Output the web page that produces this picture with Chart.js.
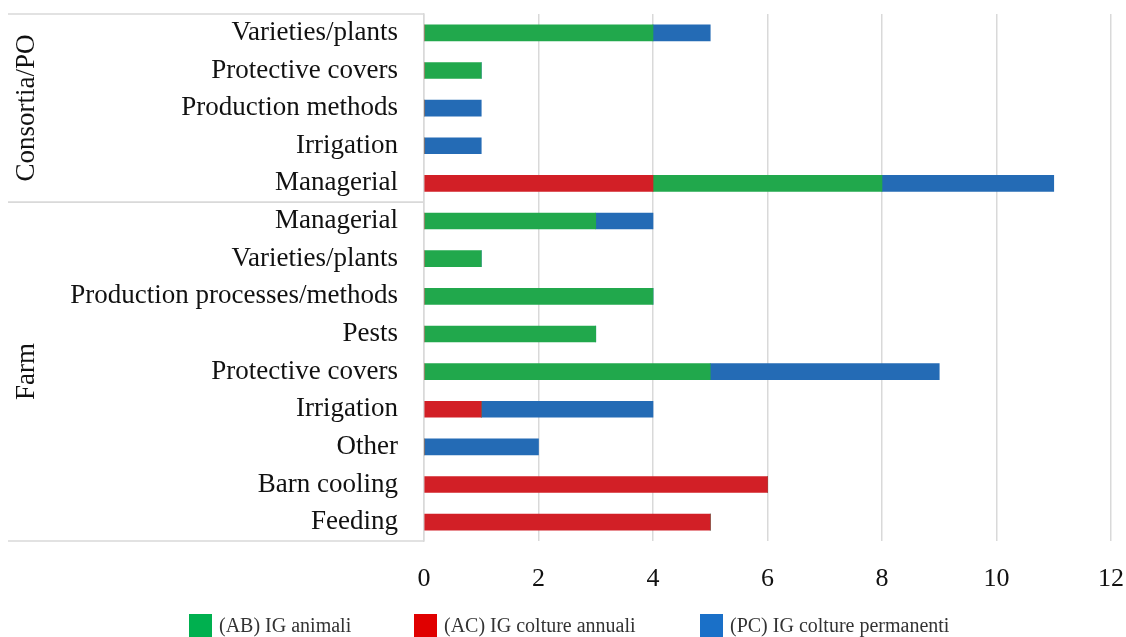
<!DOCTYPE html>
<html>
<head>
<meta charset="utf-8">
<script src="https://cdn.jsdelivr.net/npm/chart.js@4/dist/chart.umd.min.js"></script>
<style>
  body { margin: 0; background: #fff; }
  #wrap { position: relative; width: 1126px; height: 637px; }
  #legend { position: absolute; left: 0; top: 614px; width: 1126px; font-family: "Liberation Serif", serif; font-size: 20px; color: #333; }
  .item { position: absolute; top: 0; height: 23px; line-height: 23px; white-space: nowrap; }
  .box { display: inline-block; width: 23px; height: 23px; vertical-align: top; margin-right: 7px; }
</style>
</head>
<body>
<div id="wrap">
  <canvas id="chart"></canvas>
  <div id="legend"></div>
</div>
<script>
var categories = ["Varieties/plants", "Protective covers", "Production methods", "Irrigation", "Managerial",
  "Managerial", "Varieties/plants", "Production processes/methods", "Pests", "Protective covers",
  "Irrigation", "Other", "Barn cooling", "Feeding"];

// group label, first index, last index
var groupNames = ["Consortia/PO", "Farm"];
var groupFirst = [0, 5];
var groupLast = [4, 13];

var seriesNames = ["(AC) IG colture annuali", "(AB) IG animali", "(PC) IG colture permanenti"];
var acValues = [0, 0, 0, 0, 4, 0, 0, 0, 0, 0, 1, 0, 6, 5];
var abValues = [4, 1, 0, 0, 4, 3, 1, 4, 3, 5, 0, 0, 0, 0];
var pcValues = [1, 0, 1, 1, 3, 1, 0, 0, 0, 4, 3, 2, 0, 0];
var xTicks = [0, 2, 4, 6, 8, 10, 12];

var barColors = ["#d21f26", "#21a84c", "#246bb5"];
var legendColors = ["#e00000", "#00b04f", "#1a70c8"];
var legendOrder = [1, 0, 2];
var legendX = [189, 414, 700];

var FONT = "Liberation Serif";
var GRID = "#d9d9d9";

// group labels + separator lines on the left
var groupPlugin = {
  id: "groups",
  afterDraw: function (chart) {
    var c = chart.ctx;
    var y = chart.scales.y;
    var band = (y.getPixelForValue(1) - y.getPixelForValue(0));
    var right = chart.chartArea.left;
    c.save();
    c.strokeStyle = GRID;
    c.lineWidth = 1.5;
    c.fillStyle = "#111";
    c.font = "27px '" + FONT + "'";
    c.textAlign = "center";
    c.textBaseline = "middle";
    for (var i = 0; i < groupNames.length; i++) {
      var top = y.getPixelForValue(groupFirst[i]) - band / 2;
      var bot = y.getPixelForValue(groupLast[i]) + band / 2;
      c.beginPath();
      c.moveTo(8, top);
      c.lineTo(right, top);
      c.moveTo(8, bot);
      c.lineTo(right, bot);
      c.stroke();
      c.save();
      c.translate(27, (top + bot) / 2);
      c.rotate(-Math.PI / 2);
      c.fillText(groupNames[i], 0, 0);
      c.restore();
    }
    c.restore();
  }
};

var ctx = document.getElementById("chart").getContext("2d");
ctx.canvas.width = 1126;
ctx.canvas.height = 637;

var chart = new Chart(ctx, {
  type: "bar",
  data: {
    labels: categories,
    datasets: [
      { label: seriesNames[0], data: acValues, backgroundColor: barColors[0] },
      { label: seriesNames[1], data: abValues, backgroundColor: barColors[1] },
      { label: seriesNames[2], data: pcValues, backgroundColor: barColors[2] },
    ],
  },
  options: {
    indexAxis: "y",
    responsive: false,
    animation: false,
    layout: { padding: { top: 14, right: 15, left: 0, bottom: 0 } },
    datasets: { bar: { barThickness: 16 } },
    plugins: { legend: { display: false }, tooltip: { enabled: false } },
    scales: {
      x: {
        stacked: true,
        min: 0,
        max: 12,
        afterBuildTicks: function (s) {
          s.ticks = xTicks.map(function (v) { return { value: v }; });
        },
        afterFit: function (s) {
          s.height = 96;
          s.paddingLeft = 0;
          s.paddingRight = 0;
        },
        grid: { color: GRID, lineWidth: 1.5, drawTicks: false },
        border: { display: false },
        ticks: { color: "#111", padding: 23, font: { family: FONT, size: 26 } },
      },
      y: {
        stacked: true,
        afterFit: function (s) {
          s.width = 424;
          s.paddingTop = 0;
          s.paddingBottom = 0;
        },
        grid: { display: false, drawTicks: false },
        border: { display: true, color: GRID, width: 1.5 },
        ticks: { color: "#111", padding: 26, font: { family: FONT, size: 27 } },
      },
    },
  },
  plugins: [groupPlugin],
});

// legend
var leg = document.getElementById("legend");
legendOrder.forEach(function (k, i) {
  var d = document.createElement("div");
  d.className = "item";
  d.style.left = legendX[i] + "px";
  d.innerHTML = '<span class="box" style="background:' + legendColors[k] + '"></span>' + seriesNames[k];
  leg.appendChild(d);
});
</script>
</body>
</html>
